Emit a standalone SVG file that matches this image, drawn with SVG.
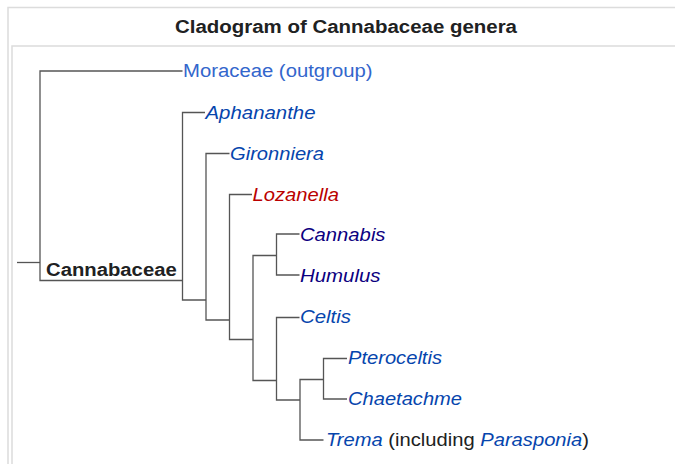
<svg xmlns="http://www.w3.org/2000/svg" width="675" height="464" viewBox="0 0 675 464">
<style>
  text { font-family: "Liberation Sans", Arial, sans-serif; font-size: 18px; }
  .title { font-weight: bold; fill: #202122; }
  .bold { font-weight: bold; fill: #202122; }
  .out { fill: #3366cc; }
  .gen { font-style: italic; fill: #0645ad; }
  .vis { font-style: italic; fill: #0b0080; }
  .red { font-style: italic; fill: #ba0000; }
  .plain { font-style: normal; fill: #202122; }
  .border { stroke: #dcdcdc; stroke-width: 1.5; fill: none; }
  .conn path { stroke: #555555; stroke-width: 1.3; fill: none; }
</style>
<rect x="0" y="0" width="675" height="464" fill="#ffffff"/>
<g id="frame">
  <path class="border" d="M675,7.5 H8 V464"/>
  <path class="border" d="M675,46 H12 V464"/>
</g>
<g id="title">
  <text class="title" x="175" y="33" textLength="342" lengthAdjust="spacingAndGlyphs">Cladogram of Cannabaceae genera</text>
</g>
<g id="connectors" class="conn">
  <path d="M17,262.5 H40"/>
  <path d="M182.5,71 H40 V280.5 H182.5"/>
  <path d="M205,112.5 H182.5 V300 H206"/>
  <path d="M229.5,153.5 H206 V320 H229.5"/>
  <path d="M252,194.5 H229.5 V339.5 H253"/>
  <path d="M276.5,255.5 H253 V380.5 H276.5"/>
  <path d="M299.5,234 H276.5 V275 H299.5"/>
  <path d="M299.5,317.5 H276.5 V400 H300"/>
  <path d="M323.5,379.5 H300 V440 H323.5"/>
  <path d="M347,358.5 H323.5 V399 H347"/>
</g>
<g id="cannabaceae">
  <text class="bold" x="46" y="276" textLength="130.7" lengthAdjust="spacingAndGlyphs">Cannabaceae</text>
</g>
<g id="moraceae">
  <text class="out" x="183" y="77" textLength="189.5" lengthAdjust="spacingAndGlyphs">Moraceae (outgroup)</text>
</g>
<g id="aphananthe">
  <text class="gen" x="205.5" y="118.5" textLength="110" lengthAdjust="spacingAndGlyphs">Aphananthe</text>
</g>
<g id="gironniera">
  <text class="gen" x="230" y="159.5" textLength="94" lengthAdjust="spacingAndGlyphs">Gironniera</text>
</g>
<g id="lozanella">
  <text class="red" x="252.5" y="200.5" textLength="86.5" lengthAdjust="spacingAndGlyphs">Lozanella</text>
</g>
<g id="cannabis">
  <text class="vis" x="300" y="240.5" textLength="85.5" lengthAdjust="spacingAndGlyphs">Cannabis</text>
</g>
<g id="humulus">
  <text class="vis" x="300" y="281.5" textLength="80.5" lengthAdjust="spacingAndGlyphs">Humulus</text>
</g>
<g id="celtis">
  <text class="gen" x="300" y="323" textLength="51" lengthAdjust="spacingAndGlyphs">Celtis</text>
</g>
<g id="pteroceltis">
  <text class="gen" x="348" y="364" textLength="94" lengthAdjust="spacingAndGlyphs">Pteroceltis</text>
</g>
<g id="chaetachme">
  <text class="gen" x="348" y="404.5" textLength="114" lengthAdjust="spacingAndGlyphs">Chaetachme</text>
</g>
<g id="trema">
  <text x="326" y="445.5" textLength="263" lengthAdjust="spacingAndGlyphs"><tspan class="gen">Trema</tspan><tspan class="plain"> (including </tspan><tspan class="gen">Parasponia</tspan><tspan class="plain">)</tspan></text>
</g>
</svg>
